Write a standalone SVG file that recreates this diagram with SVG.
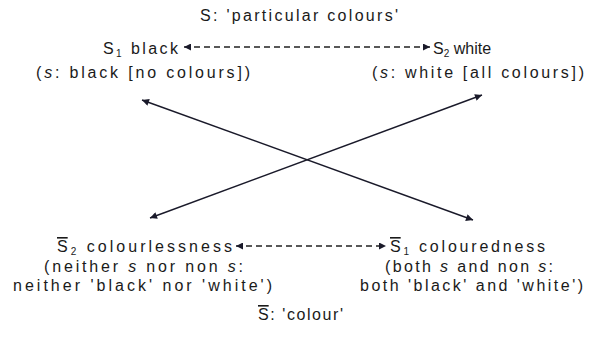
<svg xmlns="http://www.w3.org/2000/svg" width="596" height="345" viewBox="0 0 596 345">
<defs>
<marker id="ah" viewBox="0 0 10 10" refX="10" refY="5" markerWidth="8" markerHeight="7" markerUnits="userSpaceOnUse" orient="auto-start-reverse">
<path d="M0,0 L10,5 L0,10 z" fill="#1a1a2a"/>
</marker>
<style>
text{font-family:"Liberation Sans",Arial,sans-serif;font-size:16px;fill:#1a1a1a;}
.sub{font-size:10px;}
.bar{text-decoration:overline;}
.dash{stroke:#222;stroke-width:1.4;stroke-dasharray:6 4;fill:none;}
.solid{stroke:#1a1a2a;stroke-width:1.4;fill:none;}
</style>
</defs>
<rect width="596" height="345" fill="#fff"/>
<text x="200" y="21" textLength="198" lengthAdjust="spacing">S: 'particular colours'</text>
<g id="s1">
<text x="103" y="54" textLength="75" lengthAdjust="spacing">S<tspan class="sub" dy="3">1</tspan><tspan dy="-3"> black</tspan></text>
<text x="36" y="78" textLength="214" lengthAdjust="spacing">(<tspan font-style="italic">s</tspan>: black [no colours])</text>
</g>
<g id="s2">
<text x="433" y="54">S<tspan class="sub" dy="3">2</tspan><tspan dy="-3"> white</tspan></text>
<text x="372" y="78" textLength="212" lengthAdjust="spacing">(<tspan font-style="italic">s</tspan>: white [all colours])</text>
</g>
<g id="nots2">
<text x="57" y="252" textLength="175" lengthAdjust="spacing"><tspan class="bar">S</tspan><tspan class="sub" dy="3">2</tspan><tspan dy="-3"> colourlessness</tspan></text>
<text x="44" y="272" textLength="199" lengthAdjust="spacing">(neither <tspan font-style="italic">s</tspan> nor non <tspan font-style="italic">s</tspan>:</text>
<text x="13" y="291" textLength="259" lengthAdjust="spacing">neither 'black' nor 'white')</text>
</g>
<g id="nots1">
<text x="390" y="252" textLength="155" lengthAdjust="spacing"><tspan class="bar">S</tspan><tspan class="sub" dy="3">1</tspan><tspan dy="-3"> colouredness</tspan></text>
<text x="385" y="272" textLength="168" lengthAdjust="spacing">(both <tspan font-style="italic">s</tspan> and non <tspan font-style="italic">s</tspan>:</text>
<text x="360" y="291" textLength="223" lengthAdjust="spacing">both 'black' and 'white')</text>
</g>
<text x="258" y="320" textLength="85" lengthAdjust="spacing"><tspan class="bar">S</tspan>: 'colour'</text>
<g id="connectors">
<line class="dash" x1="184" y1="47" x2="430" y2="47" marker-start="url(#ah)" marker-end="url(#ah)"/>
<line class="dash" x1="236" y1="246" x2="386" y2="246" marker-start="url(#ah)" marker-end="url(#ah)"/>
<line class="solid" x1="142" y1="100" x2="473" y2="220" marker-start="url(#ah)" marker-end="url(#ah)"/>
<line class="solid" x1="150" y1="218" x2="482" y2="95" marker-start="url(#ah)" marker-end="url(#ah)"/>
</g>
</svg>
